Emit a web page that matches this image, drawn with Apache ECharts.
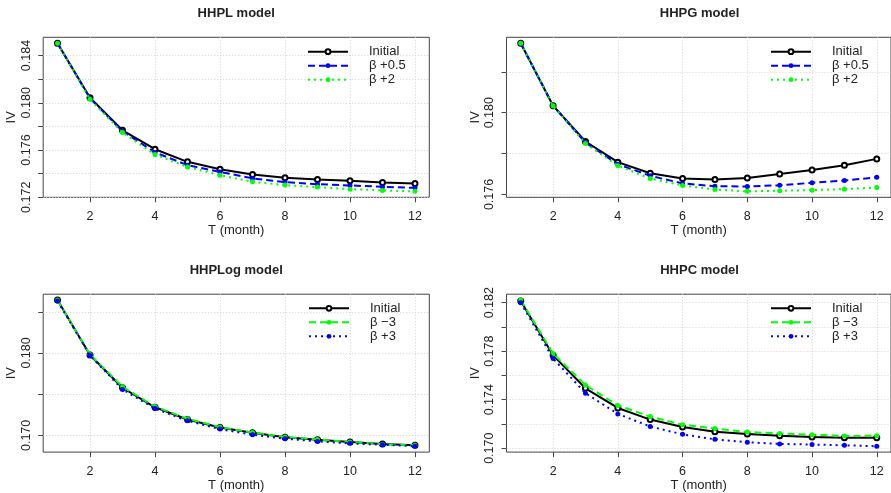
<!DOCTYPE html>
<html><head><meta charset="utf-8">
<script src="https://cdn.jsdelivr.net/npm/echarts@6/dist/echarts.min.js"></script>
<style>html,body{margin:0;padding:0;background:#fff}#c{width:891px;height:493px}</style>
</head><body><div id="c"></div>
<script>
// ---------- data ----------
const months = [1,2,3,4,5,6,7,8,9,10,11,12];
const xTickValues = [2,4,6,8,10,12];
const panelTitles = ['HHPL model','HHPG model','HHPLog model','HHPC model'];

// HHPL
const hhplInitial = [0.18504,0.18043,0.17767,0.17607,0.17500,0.17438,0.17393,0.17365,0.17351,0.17339,0.17326,0.17317];
const hhplBetaP05 = [0.18504,0.18037,0.17759,0.17580,0.17472,0.17415,0.17360,0.17328,0.17311,0.17300,0.17289,0.17280];
const hhplBetaP2  = [0.18504,0.18029,0.17748,0.17562,0.17457,0.17387,0.17331,0.17303,0.17286,0.17269,0.17258,0.17250];
// HHPG
const hhpgInitial = [0.18340,0.18034,0.17859,0.17758,0.17704,0.17678,0.17673,0.17681,0.17700,0.17720,0.17743,0.17774];
const hhpgBetaP05 = [0.18340,0.18034,0.17854,0.17748,0.17691,0.17654,0.17640,0.17639,0.17645,0.17657,0.17668,0.17684];
const hhpgBetaP2  = [0.18340,0.18034,0.17849,0.17741,0.17678,0.17644,0.17624,0.17615,0.17618,0.17621,0.17626,0.17634];
// HHPLog
const hhplogInitial = [0.18642,0.17976,0.17578,0.17341,0.17193,0.17096,0.17031,0.16976,0.16947,0.16919,0.16895,0.16880];
const hhplogBetaM3  = [0.18642,0.17980,0.17590,0.17349,0.17201,0.17100,0.17035,0.16980,0.16950,0.16921,0.16893,0.16880];
const hhplogBetaP3  = [0.18630,0.17970,0.17558,0.17325,0.17176,0.17076,0.17008,0.16960,0.16927,0.16903,0.16887,0.16868];
// HHPC
const hhpcInitial = [0.18214,0.17766,0.17494,0.17332,0.17236,0.17174,0.17136,0.17117,0.17103,0.17092,0.17087,0.17087];
const hhpcBetaM3  = [0.18222,0.17780,0.17521,0.17353,0.17261,0.17193,0.17163,0.17133,0.17122,0.17111,0.17100,0.17103];
const hhpcBetaP3  = [0.18200,0.17739,0.17454,0.17283,0.17179,0.17114,0.17073,0.17049,0.17035,0.17030,0.17024,0.17016];

// y tick values (all) and labelled ticks
const yTicks = [
  [0.172,0.174,0.176,0.178,0.180,0.182,0.184],
  [0.176,0.178,0.180,0.182],
  [0.170,0.175,0.180,0.185],
  [0.170,0.172,0.174,0.176,0.178,0.180,0.182]
];
const yLabels = [
  [0.172,0.176,0.180,0.184],
  [0.176,0.180],
  [0.170,0.180],
  [0.170,0.174,0.178,0.182]
];

const legendNames = [
  ['Initial','β +0.5','β +2'],
  ['Initial','β +0.5','β +2'],
  ['Initial','β −3','β +3'],
  ['Initial','β −3','β +3']
];
const panelSeries = [
  [hhplInitial, hhplBetaP05, hhplBetaP2],
  [hhpgInitial, hhpgBetaP05, hhpgBetaP2],
  [hhplogInitial, hhplogBetaM3, hhplogBetaP3],
  [hhpcInitial, hhpcBetaM3, hhpcBetaP3]
];

// ---------- styles ----------
const FONT = 'Liberation Sans, Arial, Helvetica, sans-serif';
const TXT = '#222';
const styles = {
  'Initial': {color:'#000000', dash:'solid', symbol:'emptyCircle', size:5, bw:1.5},
  'β +0.5': {color:'#0000FF', dash:[7,4], symbol:'circle', size:5, bw:0},
  'β +2':   {color:'#00FF00', dash:[2,4], symbol:'circle', size:5, bw:0},
  'β −3':   {color:'#00FF00', dash:[7,4], symbol:'circle', size:5, bw:0},
  'β +3':   {color:'#0000FF', dash:[2,4], symbol:'circle', size:5, bw:0}
};
const grids = [
  {left:43.2, top:37.3, width:386.1, height:160},
  {left:506.5, top:37.3, width:386.1, height:160},
  {left:43.2, top:294.2, width:386.1, height:159.2},
  {left:506.5, top:294.2, width:386.1, height:159.2}
];
const legendPos = [
  {left:307, top:44.7},
  {left:770, top:44.7},
  {left:308, top:301.3},
  {left:770, top:301.3}
];

const option = {
  animation:false,
  backgroundColor:'#fff',
  textStyle:{fontFamily:FONT},
  title:[], grid:[], xAxis:[], yAxis:[], legend:[], series:[]
};

panelSeries.forEach((set, gi) => {
  const g = grids[gi];
  option.grid.push({left:g.left, top:g.top, width:g.width, height:g.height,
    show:true, borderColor:'#444', borderWidth:1, backgroundColor:'transparent', containLabel:false});
  option.title.push({text:panelTitles[gi], left:g.left + g.width/2, top:g.top - 30, textAlign:'center', padding:0,
    textStyle:{fontFamily:FONT, fontSize:13, fontWeight:'bold', color:TXT}});
  // R-style 4% range extension
  let lo = Infinity, hi = -Infinity;
  set.forEach(a => a.forEach(v => { lo = Math.min(lo, v); hi = Math.max(hi, v); }));
  const ext = (hi - lo) * 0.04;
  option.xAxis.push({type:'value', gridIndex:gi, min:1 - 11*0.04, max:12 + 11*0.04,
    name:'T (month)', nameLocation:'middle', nameGap:25,
    nameTextStyle:{fontFamily:FONT, fontSize:13, color:TXT},
    axisLine:{show:false},
    axisTick:{show:true, length:5, customValues:xTickValues, lineStyle:{color:'#444'}},
    axisLabel:{customValues:xTickValues, margin:13, fontFamily:FONT, fontSize:12.5, color:TXT},
    splitLine:{show:true, lineStyle:{color:'#d3d3d3', type:[1,2], width:1}}
  });
  option.yAxis.push({type:'value', gridIndex:gi, min:lo - ext, max:hi + ext,
    name:'IV', nameLocation:'middle', nameGap:25, nameRotate:90,
    nameTextStyle:{fontFamily:FONT, fontSize:13, color:TXT},
    axisLine:{show:false},
    axisTick:{show:true, length:5, customValues:yTicks[gi], lineStyle:{color:'#444'}},
    axisLabel:{customValues:yLabels[gi], rotate:90, margin:10, fontFamily:FONT, fontSize:12.5, color:TXT,
      formatter: v => v.toFixed(3)},
    splitLine:{show:true, lineStyle:{color:'#d3d3d3', type:[1,2], width:1}}
  });
  const names = legendNames[gi];
  option.legend.push({orient:'vertical', left:legendPos[gi].left, top:legendPos[gi].top,
    padding:0, itemGap:0, itemWidth:40, itemHeight:6,
    data:names,
    textStyle:{fontFamily:FONT, fontSize:13, color:TXT, lineHeight:14, padding:[0,0,0,16]}
  });
  set.forEach((vals, si) => {
    const nm = names[si];
    const st = styles[nm];
    option.series.push({
      type:'line', name:nm, xAxisIndex:gi, yAxisIndex:gi,
      data: months.map((m, i) => [m, vals[i]]),
      symbol:st.symbol, symbolSize:st.size, showSymbol:true,
      lineStyle:{color:st.color, width:2, type:st.dash},
      itemStyle:{color:st.color, borderColor:st.color, borderWidth:st.bw},
      z: 2 + si
    });
  });
});

const chart = echarts.init(document.getElementById('c'), null, {renderer:'canvas'});
chart.setOption(option);
</script>
</body></html>
